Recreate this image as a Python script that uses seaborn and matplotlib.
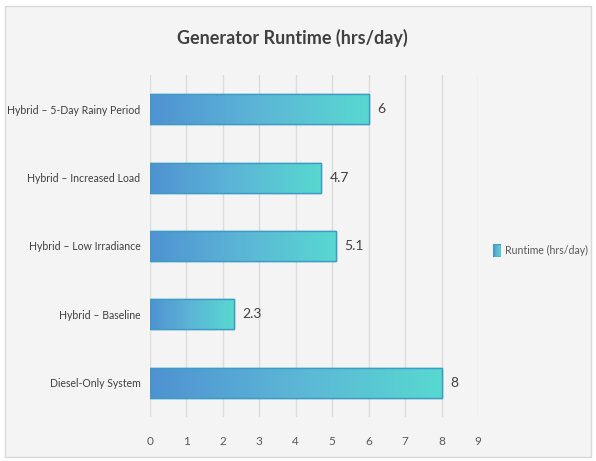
import numpy as np
import pandas as pd
import seaborn as sns
import matplotlib.pyplot as plt
from matplotlib.colors import LinearSegmentedColormap
from matplotlib.patches import Rectangle

scenarios = ['Hybrid – 5-Day Rainy Period', 'Hybrid – Increased Load',
             'Hybrid – Low Irradiance', 'Hybrid – Baseline', 'Diesel-Only System']
runtime = [6, 4.7, 5.1, 2.3, 8]
series_name = 'Runtime (hrs/day)'

df = pd.DataFrame({'scenario': scenarios, 'runtime': runtime})

sns.set_style('white')
plt.rcParams['font.family'] = ['Lato', 'DejaVu Sans']

fig = plt.figure(figsize=(5.96, 4.61), dpi=100)
fig.patch.set_facecolor('white')
fig.add_artist(Rectangle((0.008, 0.008), 0.984, 0.978, transform=fig.transFigure,
                         facecolor='#f4f4f4', edgecolor='#d9d9d9', lw=1, zorder=-10))

ax = fig.add_axes([0.2517, 0.0954, 0.5503, 0.742])
ax.set_facecolor('none')

sns.barplot(data=df, x='runtime', y='scenario', orient='h', width=0.44,
            color='#5bb8d6', edgecolor='#3a9fbf', linewidth=1, ax=ax, zorder=2)

cmap = LinearSegmentedColormap.from_list('grad', ['#4f92d2', '#5cb6d6', '#58d8d0'])
grad = np.linspace(0, 1, 256).reshape(1, -1)
for p in ax.patches:
    x0, y0 = p.get_x(), p.get_y()
    w, h = p.get_width(), p.get_height()
    im = ax.imshow(grad, extent=[x0, x0 + w, y0 + h, y0], aspect='auto',
                   cmap=cmap, zorder=2.5)
    im.set_clip_path(p)
    ax.add_patch(Rectangle((x0, y0), w, h, fill=False, edgecolor='#3d9cc4',
                           lw=1.0, zorder=3))
    ax.text(x0 + w + 0.24, y0 + h / 2, f'{w:g}', va='center', ha='left',
            fontsize=10, color='#404040')

ax.set_xlim(0, 9)
ax.set_ylim(4.5, -0.5)
ax.set_xticks(range(0, 10))
ax.xaxis.grid(True, color='#dcdcdc', lw=1, zorder=0)
ax.set_axisbelow(True)
for s in ax.spines.values():
    s.set_visible(False)
ax.tick_params(axis='x', length=0, pad=14, labelsize=8.5, labelcolor='#595959')
ax.tick_params(axis='y', length=0, pad=7, labelsize=7.6, labelcolor='#404040')
ax.set_xlabel('')
ax.set_ylabel('')

fig.text(0.49, 0.918, 'Generator Runtime (hrs/day)', ha='center', va='center',
         fontsize=13, fontweight='bold', color='#404040')

# legend
lax = fig.add_axes([0.828, 0.443, 0.013, 0.028])
lax.imshow(grad, extent=[0, 1, 0, 1], aspect='auto', cmap=cmap)
lax.add_patch(Rectangle((0, 0), 1, 1, fill=False, edgecolor='#3d9cc4', lw=1))
lax.set_xlim(0, 1)
lax.set_ylim(0, 1)
lax.axis('off')
fig.text(0.848, 0.457, series_name, ha='left', va='center', fontsize=7.6,
         color='#595959')

fig.savefig('out.png', dpi=100, facecolor=fig.get_facecolor())
